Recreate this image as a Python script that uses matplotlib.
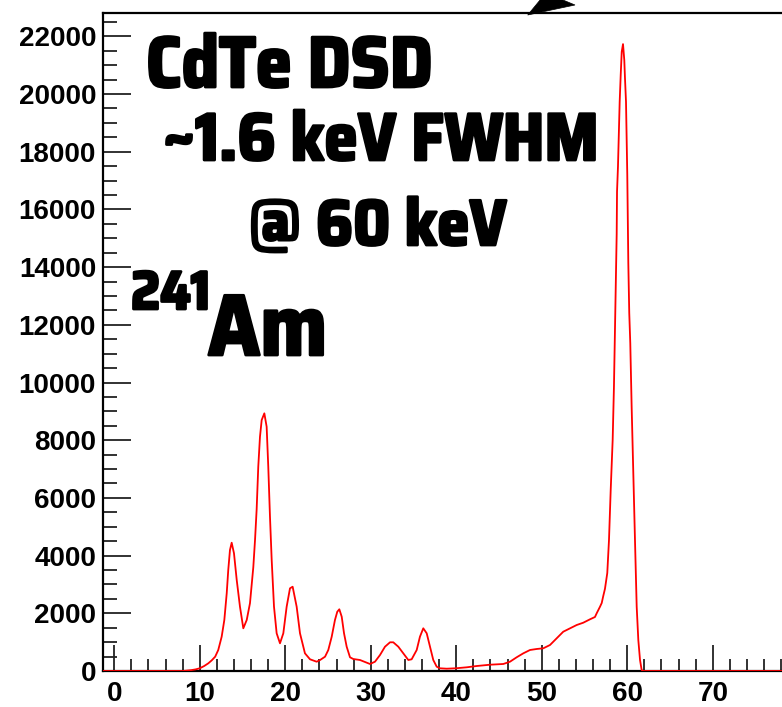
import matplotlib
matplotlib.use("Agg")
import matplotlib.pyplot as plt
from matplotlib import font_manager as fm
from matplotlib import patheffects
from matplotlib.patches import Polygon
from matplotlib.textpath import TextPath
from matplotlib.ticker import MultipleLocator

# Am-241 spectrum measured with a CdTe double-sided strip detector
energy_kev = [
    -2.0, 8.0, 8.3, 9.0, 9.5, 10.0, 10.5, 11.0, 11.4, 11.8, 12.16, 12.56, 12.87,
    13.15, 13.33, 13.53, 13.73, 14.0, 14.32, 14.70, 15.09, 15.49, 15.87, 16.26,
    16.46, 16.65, 16.84, 17.04, 17.24, 17.55, 17.82, 18.01, 18.21, 18.41, 18.68,
    18.99, 19.38, 19.77, 20.16, 20.55, 20.86, 21.33, 21.72, 22.30, 22.89, 23.67,
    24.07, 24.65, 25.03, 25.43, 25.81, 26.08, 26.32, 26.60, 26.87, 27.18, 27.57,
    27.95, 28.74, 29.52, 29.91, 30.49, 31.08, 31.66, 32.25, 32.63, 33.22, 33.80,
    34.39, 34.78, 35.37, 35.75, 36.14, 36.54, 36.92, 37.31, 37.71, 38.09, 38.88,
    39.93, 41.22, 42.39, 43.94, 45.50, 46.28, 47.06, 47.84, 48.62, 49.40, 50.18,
    50.96, 51.74, 52.51, 53.30, 54.08, 54.85, 55.64, 56.22, 56.42, 56.81, 57.01,
    57.19, 57.39, 57.66, 57.86, 58.06, 58.29, 58.44, 58.53, 58.60, 58.68, 58.76,
    58.80, 58.91, 59.03, 59.11, 59.23, 59.35, 59.50, 59.65, 59.73, 59.85, 59.93,
    60.00, 60.05, 60.12, 60.23, 60.35, 60.51, 60.70, 60.90, 61.10, 61.29, 61.49,
    61.68, 61.87, 82.0,
]
counts = [
    0, 0, 10, 30, 55, 94, 170, 267, 370, 496, 728, 1189, 1768,
    2693, 3501, 4194, 4447, 4080, 3154, 2229, 1480, 1768, 2350, 3600,
    4540, 5600, 7081, 8121, 8700, 8932, 8467, 7081, 5348, 3847, 2229,
    1307, 960, 1307, 2229, 2866, 2922, 2229, 1307, 613, 406, 322,
    381, 496, 728, 1189, 1768, 2055, 2139, 1882, 1307, 842, 475,
    416, 381, 288, 243, 322, 555, 842, 995, 995, 842, 613,
    381, 406, 728, 1189, 1480, 1307, 842, 381, 149, 94, 80,
    94, 128, 173, 218, 243, 322, 475, 613, 728, 763, 787,
    901, 1133, 1362, 1480, 1594, 1674, 1792, 1872, 2000, 2229, 2357,
    2600, 2850, 3397, 4540, 6273, 8006, 9854, 11368, 12755, 13795, 15146,
    16613, 17479, 18786, 19732, 20657, 21465, 21732, 21177, 20553, 19732, 18474,
    17191, 15805, 14141, 12408, 11368, 9160, 6863, 4540, 2229, 1074, 381,
    35, 0, 0,
]

x_ticks = [0, 10, 20, 30, 40, 50, 60, 70]
y_ticks = [0, 2000, 4000, 6000, 8000, 10000, 12000, 14000, 16000, 18000, 20000, 22000]

W, H = 782, 707
DPI = 100
fig = plt.figure(figsize=(W / DPI, H / DPI), dpi=DPI)

x_min, x_max = -1.32, 80.5
y_max = 22820
px_per_kev = 8.55
left_px, right_px = 103, 103 + (x_max - x_min) * px_per_kev
ax = fig.add_axes([left_px / W, 1 - 671 / H, (right_px - left_px) / W, (671 - 12.7) / H])

ax.plot(energy_kev, counts, color="#ff0000", lw=1.3, zorder=5, clip_on=True)
ax.set_xlim(x_min, x_max)
ax.set_ylim(0, y_max)

ax.xaxis.set_minor_locator(MultipleLocator(2))
ax.yaxis.set_minor_locator(MultipleLocator(500))
ax.set_xticks(x_ticks)
ax.set_yticks(y_ticks)

for s in ["left", "top", "bottom"]:
    ax.spines[s].set_linewidth(1.6)
    ax.spines[s].set_color("black")
ax.spines["right"].set_visible(False)

tick_font = fm.FontProperties(family="Liberation Sans", weight="bold", size=20)
ax.tick_params(axis="both", which="both", direction="in", color="#222222", width=1.3)
ax.tick_params(axis="y", which="major", length=20, pad=5)
ax.tick_params(axis="y", which="minor", length=10)
ax.tick_params(axis="x", which="major", length=19, pad=7)
ax.tick_params(axis="x", which="minor", length=9)
ax.tick_params(top=False, right=False, which="both")
for lab in ax.get_xticklabels() + ax.get_yticklabels():
    lab.set_fontproperties(tick_font)


def ink_extent(text, prop):
    ext = TextPath((0, 0), text, size=100, prop=prop).get_extents()
    return ext.width, ext.height


def is_monospaced(prop):
    wi, _ = ink_extent("i" * 12 + "|", prop)
    wm, _ = ink_extent("M" * 12 + "|", prop)
    return wi > 0.7 * wm


# Annotation lettering: a proportional condensed bold sans suited to the headline
def pick_headline_font(sample="CdTe DSD", aspect=5.2):
    best = None
    for f in fm.fontManager.ttflist:
        tag = (f.fname.split("/")[-1] + " " + f.name).lower().replace(" ", "")
        if "italic" in tag or "oblique" in tag or f.style != "normal":
            continue
        if "mono" in tag or "code" in tag or ("serif" in tag and "sans" not in tag):
            continue
        if not ("condensed" in tag or "narrow" in tag):
            continue
        if "semibold" in tag or "demibold" in tag or "black" in tag or "heavy" in tag:
            continue
        if "bold" not in tag:
            continue
        try:
            prop = fm.FontProperties(fname=f.fname)
            if is_monospaced(prop):
                continue
            w, h = ink_extent(sample, prop)
        except Exception:
            continue
        score = abs(w / h - aspect) + (0.15 if "extrabold" in tag else 0.0)
        if best is None or score < best[0]:
            best = (score, f.fname)
    return best[1] if best else None


cf = pick_headline_font()
if cf is not None:
    base_prop = fm.FontProperties(fname=cf)
else:
    base_prop = fm.FontProperties(family="DejaVu Sans", weight="bold")

fx = patheffects.withStroke(linewidth=2.0, foreground="black")


def put(text, xpx, ypx, width_px):
    w100, _ = ink_extent(text, base_prop)
    size_pt = 100 * width_px / (w100 * DPI / 72)
    prop = base_prop.copy()
    prop.set_size(size_pt)
    fig.text(xpx / W, 1 - ypx / H, text, ha="left", va="baseline",
             fontproperties=prop, color="black", path_effects=[fx])


put("CdTe DSD", 146, 87, 280)
put("~1.6 keV FWHM", 163, 160, 428)
put("@ 60 keV", 248, 245, 254)
put("241", 131, 309, 73)
put("Am", 208, 355, 114)

# Arrowhead entering from above the frame
tri = [(527.7, 15), (575, 5), (545.9, -7.1)]
fig.patches.append(Polygon([(x / W, 1 - y / H) for x, y in tri], closed=True,
                           transform=fig.transFigure, facecolor="black",
                           edgecolor="black", lw=0.5, zorder=10))

fig.savefig("out.png", dpi=DPI)
